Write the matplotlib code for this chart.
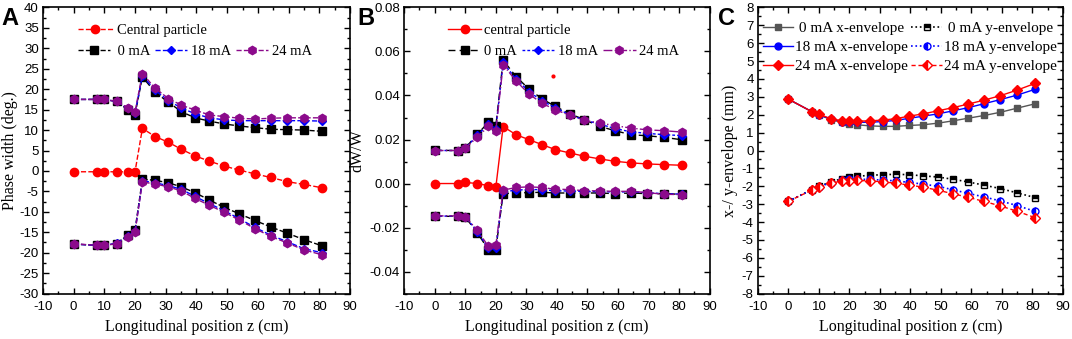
import numpy as np
import matplotlib
matplotlib.use("Agg")
import matplotlib.pyplot as plt
from matplotlib.ticker import MultipleLocator, AutoMinorLocator, FormatStrFormatter
from matplotlib.lines import Line2D

plt.rcParams['font.family'] = ['Liberation Sans Narrow', 'Liberation Sans', 'DejaVu Sans']
plt.rcParams['axes.unicode_minus'] = False

# longitudinal positions (cm)
z = [0, 7.6, 10, 14, 17.6, 20, 22.4, 26.6, 30.9, 35.1, 39.5, 44.2, 49, 54, 59, 64.2, 69.5, 75, 80.8]

# ---- panel A: phase width (deg.)
central_phase = [-0.2, -0.2, -0.2, -0.2, -0.2, -0.2, 10.4, 8.4, 7.0, 5.3, 3.7, 2.4, 1.2, 0.2,
                 -0.7, -1.6, -2.6, -3.3, -4.1]
up_0mA = [17.5, 17.5, 17.5, 17.0, 15.0, 13.8, 23.0, 19.2, 16.8, 14.5, 13.0, 12.2, 11.5, 11.0,
          10.6, 10.2, 10.1, 10.0, 9.7]
up_18mA = [17.5, 17.5, 17.5, 17.0, 15.3, 14.1, 23.3, 19.7, 17.2, 15.4, 14.0, 13.0, 12.5, 12.3,
           12.3, 12.3, 12.3, 12.3, 12.2]
up_24mA = [17.5, 17.5, 17.5, 17.0, 15.5, 14.5, 23.8, 20.2, 17.7, 16.1, 14.9, 13.7, 13.3, 12.9,
           12.7, 12.9, 13.0, 13.0, 13.0]
lo_0mA = [-17.9, -18.2, -18.2, -17.8, -15.7, -14.5, -2.0, -2.3, -2.9, -3.9, -5.3, -7.1, -8.9,
          -10.5, -12.1, -13.7, -15.2, -16.8, -18.3]
lo_18mA = [-17.9, -18.2, -18.2, -17.7, -16.0, -14.8, -2.4, -2.9, -3.6, -4.5, -6.2, -8.0, -9.7,
           -11.7, -13.8, -15.7, -17.3, -19.0, -20.0]
lo_24mA = [-17.8, -18.2, -18.2, -17.8, -16.2, -15.0, -2.7, -3.2, -3.9, -4.9, -6.7, -8.4, -10.1,
           -12.0, -14.1, -16.0, -17.6, -19.3, -20.5]

# ---- panel B: dW/W
central_dw = [0.0, 0.0, 0.0005, 0.0, -0.001, -0.0018, 0.0259, 0.0222, 0.0199, 0.0177, 0.0154,
              0.0139, 0.0124, 0.0112, 0.0101, 0.0094, 0.0089, 0.0086, 0.0083]
stray_z = [38.8]
stray_dw = [0.049]
dw_up_0mA = [0.0151, 0.0150, 0.0161, 0.0225, 0.0278, 0.0260, 0.0561, 0.0486, 0.0429, 0.0385,
             0.0350, 0.0317, 0.0290, 0.0260, 0.0240, 0.0222, 0.0217, 0.0210, 0.0199]
dw_up_18mA = [0.0150, 0.0150, 0.0160, 0.0220, 0.0270, 0.0250, 0.0550, 0.0475, 0.0418, 0.0375,
              0.0345, 0.0312, 0.0288, 0.0270, 0.0250, 0.0235, 0.0228, 0.0222, 0.0218]
dw_up_24mA = [0.0150, 0.0150, 0.0160, 0.0211, 0.0260, 0.0240, 0.0539, 0.0467, 0.0406, 0.0365,
              0.0335, 0.0310, 0.0287, 0.0275, 0.0263, 0.0252, 0.0244, 0.0240, 0.0234]
dw_lo_0mA = [-0.0149, -0.0149, -0.0152, -0.0225, -0.0301, -0.0300, -0.0046, -0.0043, -0.0041,
             -0.0040, -0.0043, -0.0043, -0.0043, -0.0043, -0.0046, -0.0043, -0.0046, -0.0046, -0.0049]
dw_lo_18mA = [-0.0148, -0.0148, -0.0150, -0.0220, -0.0295, -0.0292, -0.0038, -0.0030, -0.0027,
              -0.0028, -0.0033, -0.0034, -0.0036, -0.0037, -0.0038, -0.0038, -0.0042, -0.0046, -0.0048]
dw_lo_24mA = [-0.0147, -0.0147, -0.0150, -0.0213, -0.0286, -0.0281, -0.0030, -0.0018, -0.0015,
              -0.0018, -0.0026, -0.0027, -0.0033, -0.0033, -0.0036, -0.0035, -0.0041, -0.0049, -0.0050]

# ---- panel C: envelopes (mm)
x_env_0mA = [2.87, 2.18, 2.00, 1.72, 1.57, 1.50, 1.44, 1.38, 1.35, 1.35, 1.40, 1.44, 1.53, 1.66,
             1.81, 1.96, 2.14, 2.37, 2.61]
x_env_18mA = [2.87, 2.18, 2.00, 1.75, 1.62, 1.60, 1.58, 1.58, 1.62, 1.68, 1.80, 1.92, 2.05, 2.22,
              2.40, 2.62, 2.85, 3.10, 3.42]
x_env_24mA = [2.87, 2.18, 2.02, 1.78, 1.66, 1.65, 1.64, 1.66, 1.70, 1.78, 1.92, 2.05, 2.22, 2.40,
              2.60, 2.82, 3.07, 3.38, 3.75]
y_env_0mA = [-2.84, -2.19, -2.00, -1.76, -1.57, -1.48, -1.44, -1.39, -1.35, -1.33, -1.35, -1.42,
             -1.48, -1.61, -1.76, -1.94, -2.13, -2.37, -2.63]
y_env_18mA = [-2.84, -2.20, -2.02, -1.80, -1.65, -1.60, -1.60, -1.62, -1.65, -1.70, -1.78, -1.88,
              -2.00, -2.20, -2.40, -2.60, -2.82, -3.08, -3.40]
y_env_24mA = [-2.84, -2.22, -2.05, -1.83, -1.70, -1.68, -1.67, -1.70, -1.75, -1.83, -1.93, -2.05,
              -2.22, -2.42, -2.62, -2.85, -3.10, -3.40, -3.75]

PURPLE = '#8b0a8b'
GRAY = '#555555'
serif = ['Liberation Serif', 'DejaVu Serif']
ms = 6


def style_axes(ax, ylim, ymajor):
    ax.set_xlim(-10, 90)
    ax.set_ylim(*ylim)
    ax.xaxis.set_major_locator(MultipleLocator(10))
    ax.yaxis.set_major_locator(MultipleLocator(ymajor))
    ax.xaxis.set_minor_locator(AutoMinorLocator(2))
    ax.yaxis.set_minor_locator(AutoMinorLocator(2))
    ax.tick_params(which='both', direction='in', top=True, right=True, labelsize=9.5,
                   width=1.0, colors='black', pad=3)
    ax.tick_params(axis='x', which='major', pad=5)
    ax.tick_params(which='major', length=4.5)
    ax.tick_params(which='minor', length=2.5)
    for sp in ax.spines.values():
        sp.set_linewidth(1.2)
    ax.set_xlabel('Longitudinal position z (cm)', family=serif, fontsize=11.5, labelpad=5)


fig = plt.figure(figsize=(10.72, 3.39), dpi=100)
axA = fig.add_axes([0.040, 0.134, 0.2865, 0.844])
axB = fig.add_axes([0.377, 0.134, 0.285, 0.844])
axC = fig.add_axes([0.707, 0.134, 0.2846, 0.844])

# ---------------- A
axA.plot(z, central_phase, ls='--', lw=1, color='red', marker='o', ms=ms)
for up, lo, c, m in [(up_0mA, lo_0mA, 'black', 's'), (up_18mA, lo_18mA, 'blue', 'D'),
                     (up_24mA, lo_24mA, PURPLE, 'h')]:
    msz = ms - 1.5 if m == 'D' else ms
    axA.plot(z, up, ls='--', lw=1, color=c, marker=m, ms=msz)
    axA.plot(z, lo, ls='--', lw=1, color=c, marker=m, ms=msz)
style_axes(axA, (-30, 40), 5)
axA.set_ylabel('Phase width (deg.)', family=serif, fontsize=11.5, labelpad=1)

legA1 = axA.legend([Line2D([], [], ls='--', lw=1, color='red', marker='o', ms=ms)],
                   ['Central particle'], loc='upper left', bbox_to_anchor=(0.07, 0.99),
                   frameon=False, prop={'family': serif, 'size': 10.5}, handlelength=2.4,
                   handletextpad=0.3)
axA.add_artist(legA1)
hA2 = [Line2D([], [], ls='--', lw=1, color='black', marker='s', ms=ms),
       Line2D([], [], ls='--', lw=1, color='blue', marker='D', ms=ms - 1.5),
       Line2D([], [], ls='--', lw=1, color=PURPLE, marker='h', ms=ms)]
axA.legend(hA2, [' 0 mA', '18 mA', '24 mA'], loc='upper left', bbox_to_anchor=(0.07, 0.915),
           ncol=3, frameon=False, prop={'family': serif, 'size': 10.5}, handlelength=2.2,
           handletextpad=0.3, columnspacing=0.3)

# ---------------- B
axB.plot(z, central_dw, ls='-', lw=1, color='red', marker='o', ms=ms)
axB.plot(stray_z, stray_dw, ls='none', color='red', marker='o', ms=2)
for up, lo, c, m, ls in [(dw_up_0mA, dw_lo_0mA, 'black', 's', (0, (5, 3))),
                         (dw_up_18mA, dw_lo_18mA, 'blue', 'D', (0, (2, 1.5))),
                         (dw_up_24mA, dw_lo_24mA, PURPLE, 'h', '-.')]:
    msz = ms - 1.5 if m == 'D' else ms
    axB.plot(z, up, ls=ls, lw=1, color=c, marker=m, ms=msz)
    axB.plot(z, lo, ls=ls, lw=1, color=c, marker=m, ms=msz)
style_axes(axB, (-0.05, 0.08), 0.02)
axB.yaxis.set_major_formatter(FormatStrFormatter('%.2f'))
axB.set_ylabel('dW/W', family=serif, fontsize=11.5, labelpad=3)

legB1 = axB.legend([Line2D([], [], ls='-', lw=1, color='red', marker='o', ms=ms)],
                   ['central particle'], loc='upper left', bbox_to_anchor=(0.1, 0.99),
                   frameon=False, prop={'family': serif, 'size': 10.5}, handlelength=2.3,
                   handletextpad=0.2)
axB.add_artist(legB1)
hB2 = [Line2D([], [], ls=(0, (5, 3)), lw=1, color='black', marker='s', ms=ms),
       Line2D([], [], ls=(0, (2, 1.5)), lw=1, color='blue', marker='D', ms=ms - 1.5),
       Line2D([], [], ls='-.', lw=1, color=PURPLE, marker='h', ms=ms)]
axB.legend(hB2, ['0 mA', '18 mA', '24 mA'], loc='upper left', bbox_to_anchor=(0.1, 0.915),
           ncol=3, frameon=False, prop={'family': serif, 'size': 10.5}, handlelength=2.3,
           handletextpad=0.2, columnspacing=0.3)

# ---------------- C
axC.plot(z, x_env_0mA, ls='-', lw=1, color=GRAY, marker='s', ms=ms - 1)
axC.plot(z, x_env_18mA, ls='-', lw=1, color='blue', marker='o', ms=ms - 1)
axC.plot(z, x_env_24mA, ls='-', lw=1, color='red', marker='D', ms=ms - 1)
axC.plot(z, y_env_0mA, ls=':', lw=1.2, color='black', marker='s', ms=ms - 1,
         fillstyle='top', markerfacecoloralt='white')
axC.plot(z, y_env_18mA, ls=':', lw=1.2, color='blue', marker='o', ms=ms - 1,
         fillstyle='left', markerfacecoloralt='white')
axC.plot(z, y_env_24mA, ls=(0, (3, 2)), lw=1, color='red', marker='D', ms=ms - 1,
         fillstyle='left', markerfacecoloralt='white')
style_axes(axC, (-8, 8), 1)
axC.set_ylabel('x-/ y-envelope (mm)', family=serif, fontsize=11.5, labelpad=3)

hC = [Line2D([], [], ls='-', lw=1, color=GRAY, marker='s', ms=ms - 1),
      Line2D([], [], ls='-', lw=1, color='blue', marker='o', ms=ms - 1),
      Line2D([], [], ls='-', lw=1, color='red', marker='D', ms=ms - 1),
      Line2D([], [], ls=':', lw=1.2, color='black', marker='s', ms=ms - 1,
             fillstyle='top', markerfacecoloralt='white'),
      Line2D([], [], ls=':', lw=1.2, color='blue', marker='o', ms=ms - 1,
             fillstyle='left', markerfacecoloralt='white'),
      Line2D([], [], ls=(0, (3, 2)), lw=1, color='red', marker='D', ms=ms - 1,
             fillstyle='left', markerfacecoloralt='white')]
axC.legend(hC, [' 0 mA x-envelope', '18 mA x-envelope', '24 mA x-envelope',
                ' 0 mA y-envelope', '18 mA y-envelope', '24 mA y-envelope'],
           loc='upper left', bbox_to_anchor=(-0.03, 1.0), ncol=2, frameon=False,
           prop={'family': serif, 'size': 11}, handlelength=2.0, handletextpad=0.15,
           columnspacing=0.2, labelspacing=0.35)

# panel letters
for ax, letter, dx in [(axA, 'A', -0.135), (axB, 'B', -0.152), (axC, 'C', -0.132)]:
    ax.text(dx, 1.0, letter, transform=ax.transAxes, fontsize=17, fontweight='bold',
            family=['Liberation Sans', 'DejaVu Sans'], ha='left', va='top')

fig.savefig('out.png', dpi=100)
